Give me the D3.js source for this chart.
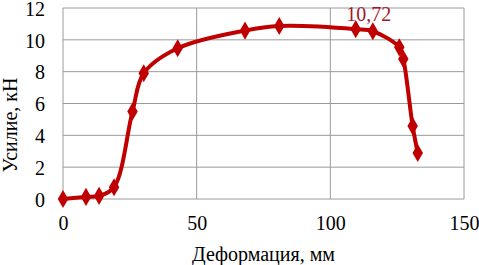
<!DOCTYPE html>
<html>
<head>
<meta charset="utf-8">
<script src="https://cdn.jsdelivr.net/npm/d3@7"></script>
<style>
  body { margin: 0; background: #fff; }
</style>
</head>
<body>
<div id="chart"></div>
<script>
// data
var deformation = [0, 8.6, 13.5, 19.1, 26, 30.2, 42.9, 68.1, 80.9, 109.5, 115.9, 125.8, 127.3, 130.8, 132.7];
var force = [0, 0.13, 0.2, 0.74, 5.5, 7.9, 9.47, 10.58, 10.87, 10.67, 10.54, 9.53, 8.8, 4.58, 2.89];
var xTicks = [0, 50, 100, 150];
var yTicks = [0, 2, 4, 6, 8, 10, 12];
var labelIndex = 10;
var labelText = "10,72";

var FONT = "Liberation Serif";

var svgWidth = 479;
var svgHeight = 265;
var margin = { top: 8, right: 15, bottom: 66, left: 63 };
var width = 464 - margin.left;
var height = 199 - margin.top;

var svg = d3.select("#chart").append("svg")
  .attr("width", svgWidth)
  .attr("height", svgHeight);

var chartGroup = svg.append("g")
  .attr("transform", `translate(${margin.left}, ${margin.top})`);

var x = d3.scaleLinear().domain([0, 150]).range([0, width]);
var y = d3.scaleLinear().domain([0, 12]).range([height, 0]);

// gridlines
chartGroup.selectAll(".hgrid").data(yTicks).enter().append("line")
  .attr("x1", 0).attr("x2", width)
  .attr("y1", d => y(d)).attr("y2", d => y(d))
  .style("stroke", "#9a9a9a").style("stroke-width", 1);

chartGroup.selectAll(".vgrid").data(xTicks).enter().append("line")
  .attr("y1", 0).attr("y2", height)
  .attr("x1", d => x(d)).attr("x2", d => x(d))
  .style("stroke", "#9a9a9a").style("stroke-width", 1);

// axes (labels only)
var bottomAxis = d3.axisBottom(x).tickValues(xTicks).tickSize(0).tickPadding(17);
var leftAxis = d3.axisLeft(y).tickValues(yTicks).tickSize(0).tickPadding(18);

var xAxis = chartGroup.append("g")
  .attr("transform", `translate(0, ${height})`)
  .call(bottomAxis);
var yAxis = chartGroup.append("g").call(leftAxis);

[xAxis, yAxis].forEach(function(a) {
  a.attr("font-family", FONT).attr("font-size", 20);
  a.select(".domain").remove();
  a.selectAll("text")
    .attr("font-family", FONT)
    .style("font-family", FONT)
    .style("fill", "#000");
});
yAxis.selectAll("text").attr("dy", "0.36em");

var data = deformation.map((d, i) => ({ x: d, y: force[i] }));

var line = d3.line()
  .x(d => x(d.x))
  .y(d => y(d.y))
  .curve(d3.curveCatmullRom.alpha(0.5));

chartGroup.append("path")
  .datum(data)
  .attr("d", line)
  .style("fill", "none")
  .style("stroke", "#c00000")
  .style("stroke-width", 4);

chartGroup.selectAll(".pt").data(data).enter().append("path")
  .attr("d", d3.symbol().type(d3.symbolDiamond).size(95))
  .attr("transform", d => `translate(${x(d.x)}, ${y(d.y)})`)
  .style("fill", "#c00000");

// data label
chartGroup.append("text")
  .attr("x", x(data[labelIndex].x) - 4)
  .attr("y", y(data[labelIndex].y) - 10)
  .attr("font-family", FONT)
  .attr("font-size", 20)
  .style("text-anchor", "middle")
  .style("fill", "#a0182a")
  .text(labelText);

// axis titles
svg.append("text")
  .attr("x", margin.left + width / 2)
  .attr("y", 261)
  .attr("font-family", FONT)
  .attr("font-size", 20)
  .style("text-anchor", "middle")
  .text("Деформация, мм");

svg.append("text")
  .attr("transform", "translate(17, 125) rotate(-90)")
  .attr("font-family", FONT)
  .attr("font-size", 20)
  .style("text-anchor", "middle")
  .text("Усилие, кН");
</script>
</body>
</html>
